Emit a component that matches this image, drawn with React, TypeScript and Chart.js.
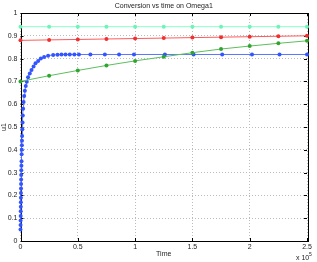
import React, { useEffect, useRef } from "react";
import { Chart, registerables } from "chart.js";

Chart.register(...registerables);

const titleText = "Conversion vs time on Omega1";
const xLabel = "Time";
const yLabel = "u1";
const xTicks = [0, 0.5, 1, 1.5, 2, 2.5];
const yTicks = [0, 0.1, 0.2, 0.3, 0.4, 0.5, 0.6, 0.7, 0.8, 0.9, 1];

// time in units of 1e5
const coarseTime = [0, 0.25, 0.5, 0.75, 1.0, 1.25, 1.5, 1.75, 2.0, 2.25, 2.5];
const cyanValues = [0.94, 0.94, 0.94, 0.94, 0.94, 0.94, 0.94, 0.94, 0.94, 0.94, 0.94];
const redValues = [0.88, 0.882, 0.884, 0.886, 0.888, 0.89, 0.892, 0.894, 0.896, 0.898, 0.9];
const greenValues = [0.7, 0.725, 0.748, 0.77, 0.79, 0.808, 0.826, 0.842, 0.855, 0.867, 0.878];

const blueTime = [
  0, 0.0005, 0.001, 0.0015, 0.002, 0.0025, 0.003, 0.0035, 0.004, 0.0045, 0.005, 0.0055,
  0.006, 0.007, 0.008, 0.009, 0.01, 0.011, 0.012, 0.013, 0.014, 0.016, 0.018, 0.02,
  0.023, 0.027, 0.032, 0.038, 0.046, 0.055, 0.066, 0.081, 0.096, 0.114, 0.131, 0.154,
  0.177, 0.206, 0.241, 0.285, 0.323, 0.358, 0.393, 0.43, 0.47, 0.51, 0.61, 0.736, 0.86,
  0.99, 1.26, 1.51, 1.76, 2.02, 2.26, 2.5,
];
const blueValues = [
  0.05, 0.07, 0.09, 0.11, 0.13, 0.15, 0.17, 0.19, 0.21, 0.23, 0.25, 0.27,
  0.29, 0.31, 0.33, 0.35, 0.38, 0.4, 0.42, 0.44, 0.46, 0.49, 0.52, 0.55,
  0.58, 0.61, 0.636, 0.659, 0.68, 0.699, 0.718, 0.735, 0.75, 0.765, 0.78, 0.79,
  0.8, 0.807, 0.813, 0.816, 0.817, 0.818, 0.818, 0.818, 0.818, 0.818, 0.818, 0.818, 0.818,
  0.818, 0.818, 0.818, 0.818, 0.818, 0.818, 0.818,
];

const FONT = "'Liberation Sans', Arial, sans-serif";

const pts = (xs: number[], ys: number[]) => xs.map((x, i) => ({ x, y: ys[i] }));

const boxPlugin = {
  id: "boxPlugin",
  beforeDatasetsDraw(chart: any) {
    const { ctx, chartArea } = chart;
    const { left, right, top, bottom } = chartArea;
    ctx.save();
    ctx.strokeStyle = "#000";
    ctx.lineWidth = 1;
    const xs = chart.scales.x;
    const ys = chart.scales.y;
    ctx.beginPath();
    xTicks.forEach((t) => {
      const px = Math.round(xs.getPixelForValue(t)) + 0.5;
      ctx.moveTo(px, bottom);
      ctx.lineTo(px, bottom - 3);
      ctx.moveTo(px, top);
      ctx.lineTo(px, top + 3);
    });
    yTicks.forEach((t) => {
      const py = Math.round(ys.getPixelForValue(t)) + 0.5;
      ctx.moveTo(left, py);
      ctx.lineTo(left + 3, py);
      ctx.moveTo(right, py);
      ctx.lineTo(right - 3, py);
    });
    ctx.stroke();
    ctx.strokeRect(Math.round(left) + 0.5, Math.round(top) + 0.5, Math.round(right - left), Math.round(bottom - top));
    ctx.restore();
  },
  afterDraw(chart: any) {
    const { ctx, chartArea } = chart;
    const { left, right } = chartArea;
    ctx.save();
    ctx.fillStyle = "#222";
    ctx.font = `7px ${FONT}`;
    ctx.textAlign = "center";
    ctx.textBaseline = "middle";
    ctx.fillText(titleText, (left + right) / 2, 6);
    ctx.textAlign = "left";
    ctx.fillText("x 10", 296, 258);
    ctx.font = `5px ${FONT}`;
    ctx.fillText("5", 309, 255);
    ctx.restore();
  },
};

export default function App() {
  const ref = useRef<HTMLCanvasElement | null>(null);
  useEffect(() => {
    document.body.style.margin = "0";
    if (!ref.current) return;
    const mk = (label: string, data: any[], line: string, point: string) => ({
      label,
      data,
      borderColor: line,
      backgroundColor: point,
      pointBackgroundColor: point,
      pointBorderColor: point,
      pointRadius: 2,
      pointBorderWidth: 0,
      borderWidth: 1,
      tension: 0,
      clip: 6,
    });
    const chart = new Chart(ref.current, {
      type: "line",
      data: {
        datasets: [
          mk("cyan", pts(coarseTime, cyanValues), "#8affcc", "#6cf5b4"),
          mk("red", pts(coarseTime, redValues), "#ff5a5a", "#f03030"),
          mk("green", pts(coarseTime, greenValues), "#5cbf5c", "#2fa52f"),
          mk("blue", pts(blueTime, blueValues), "#5a78ff", "#3355ff"),
        ],
      },
      options: {
        animation: false,
        responsive: false,
        maintainAspectRatio: false,
        layout: { padding: { top: 13, right: 10, left: 0, bottom: 0 } },
        plugins: {
          legend: { display: false },
          title: { display: false },
          tooltip: { enabled: false },
        },
        scales: {
          x: {
            type: "linear",
            min: 0,
            max: 2.5,
            afterBuildTicks: (s: any) => {
              s.ticks = xTicks.map((v) => ({ value: v }));
            },
            afterFit: (s: any) => {
              s.height = 21;
            },
            ticks: {
              color: "#222",
              font: { size: 7, family: FONT },
              padding: 2,
              maxRotation: 0,
              callback: (v: any) => String(v),
            },
            grid: { color: "#bbb", drawTicks: false, lineWidth: 1 },
            border: { display: false, dash: [1, 2] },
            title: {
              display: true,
              text: xLabel,
              color: "#222",
              font: { size: 7, family: FONT },
              padding: { top: 0, bottom: 4 },
            },
          },
          y: {
            type: "linear",
            min: 0,
            max: 1,
            afterBuildTicks: (s: any) => {
              s.ticks = yTicks.map((v) => ({ value: v }));
            },
            afterFit: (s: any) => {
              s.width = 20.5;
            },
            ticks: {
              color: "#222",
              font: { size: 7, family: FONT },
              padding: 3,
              callback: (v: any) => String(v),
            },
            grid: { color: "#bbb", drawTicks: false, lineWidth: 1 },
            border: { display: false, dash: [1, 2] },
            title: {
              display: true,
              text: yLabel,
              color: "#222",
              font: { size: 7, family: FONT },
              padding: 0,
            },
          },
        },
      },
      plugins: [boxPlugin],
    });
    return () => chart.destroy();
  }, []);
  return (
    <div style={{ width: 317, height: 262, background: "#fff" }}>
      <canvas ref={ref} width={317} height={262} style={{ width: 317, height: 262, display: "block" }} />
    </div>
  );
}
